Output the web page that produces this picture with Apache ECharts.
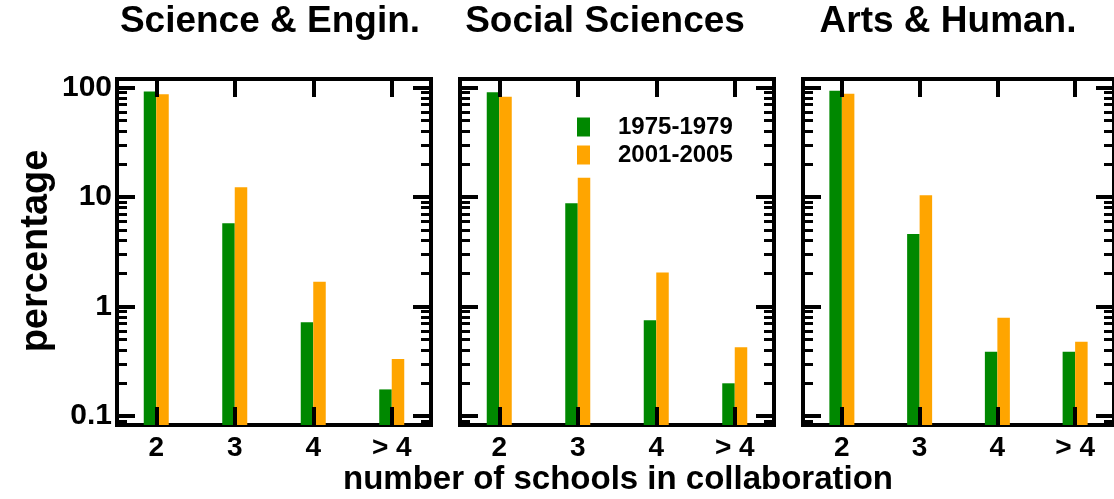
<!DOCTYPE html>
<html>
<head>
<meta charset="utf-8">
<script src="https://cdn.jsdelivr.net/npm/echarts@6/dist/echarts.min.js"></script>
<style>html,body{margin:0;padding:0;background:#fff;}#c{width:1114px;height:499px;}</style>
</head>
<body>
<div id="c"></div>
<script>
// ---- data ----
const categories = ['2', '3', '4', '> 4'];
const panelTitles = ['Science & Engin.', 'Social Sciences', 'Arts & Human.'];
const seriesNames = ['1975-1979', '2001-2005'];
const sciEarly = [92, 5.75, 0.717, 0.175];
const sciLate  = [86.7, 12.3, 1.68, 0.331];
const socEarly = [90.4, 8.75, 0.748, 0.199];
const socLate  = [82.4, 15.0, 2.05, 0.424];
const artEarly = [93.5, 4.59, 0.386, 0.386];
const artLate  = [87.8, 10.4, 0.79, 0.477];
const majorTickValues = [0.1, 1, 10, 100];
const minorTickValues = [0.09, 0.2, 0.3, 0.4, 0.5, 0.6, 0.7, 0.8, 0.9,
  2, 3, 4, 5, 6, 7, 8, 9, 20, 30, 40, 50, 60, 70, 80, 90];
const yMin = 0.0828, yMax = 119.6;
const xAxisTitle = 'number of schools in collaboration';
const yAxisTitle = 'percentage';

const panelData = [[sciEarly, sciLate], [socEarly, socLate], [artEarly, artLate]];
const colors = ['#008800', '#FFA500'];
const FONT = 'Liberation Sans';

const gridLayout = [
  {left: 117, top: 79, width: 314, height: 346},
  {left: 460, top: 79, width: 314, height: 346},
  {left: 803, top: 79, width: 315, height: 346}
];

const grids = [], xAxes = [], yAxes = [], series = [];
gridLayout.forEach((g, i) => {
  grids.push(Object.assign({show: true, borderColor: '#000', borderWidth: 4, backgroundColor: 'transparent'}, g));
  ['bottom', 'top'].forEach(pos => {
    xAxes.push({
      type: 'category', gridIndex: i, position: pos, data: categories, z: 5,
      axisLine: {show: false},
      axisTick: {show: true, inside: true, length: 18, alignWithLabel: true, lineStyle: {color: '#000', width: 4}},
      axisLabel: {show: pos === 'bottom', margin: 9, color: '#000', fontFamily: FONT, fontWeight: 'bold', fontSize: 28},
      splitLine: {show: false}
    });
  });
  const yBase = {type: 'log', logBase: 10, gridIndex: i, min: yMin, max: yMax, startValue: yMin, z: 5,
    axisLine: {show: false}, splitLine: {show: false}, minorTick: {show: false}, minorSplitLine: {show: false}};
  ['left', 'right'].forEach(pos => {
    yAxes.push(Object.assign({}, yBase, {
      position: pos,
      axisTick: {show: true, inside: true, length: 18, customValues: majorTickValues, lineStyle: {color: '#000', width: 4}},
      axisLabel: {show: i === 0 && pos === 'left', customValues: majorTickValues, margin: 5, color: '#000',
        fontFamily: FONT, fontWeight: 'bold', fontSize: 30, formatter: v => String(v)}
    }));
    yAxes.push(Object.assign({}, yBase, {
      position: pos,
      axisTick: {show: true, inside: true, length: 10, customValues: minorTickValues, lineStyle: {color: '#000', width: 3}},
      axisLabel: {show: false}
    }));
  });
  panelData[i].forEach((vals, k) => {
    series.push({
      type: 'bar', name: seriesNames[k], xAxisIndex: i * 2, yAxisIndex: i * 4,
      data: vals, barWidth: 12.5, barGap: '0%', itemStyle: {color: colors[k]}, silent: true
    });
  });
});

const graphics = [];
const titleX = [270, 605, 948];
panelTitles.forEach((t, i) => {
  graphics.push({type: 'text', x: titleX[i], y: 22, style: {text: t, fill: '#000',
    font: 'bold 37px "' + FONT + '"', textAlign: 'center', textVerticalAlign: 'middle'}});
});
graphics.push({type: 'text', x: 618, y: 480, style: {text: xAxisTitle, fill: '#000',
  font: 'bold 33px "' + FONT + '"', textAlign: 'center', textVerticalAlign: 'middle'}});
graphics.push({type: 'text', x: 37, y: 251, rotation: Math.PI / 2, style: {text: yAxisTitle, fill: '#000',
  font: 'bold 38px "' + FONT + '"', textAlign: 'center', textVerticalAlign: 'middle'}});

const chart = echarts.init(document.getElementById('c'), null, {renderer: 'canvas'});
chart.setOption({
  animation: false,
  backgroundColor: '#fff',
  grid: grids,
  xAxis: xAxes,
  yAxis: yAxes,
  series: series,
  legend: {
    data: seriesNames, orient: 'vertical', left: 577, top: 115, padding: 0,
    itemWidth: 13, itemHeight: 19, itemGap: 4, icon: 'rect', selectedMode: false,
    textStyle: {color: '#000', fontFamily: FONT, fontWeight: 'bold', fontSize: 24, padding: [0, 0, 0, 23]}
  },
  graphic: graphics
});
</script>
</body>
</html>
